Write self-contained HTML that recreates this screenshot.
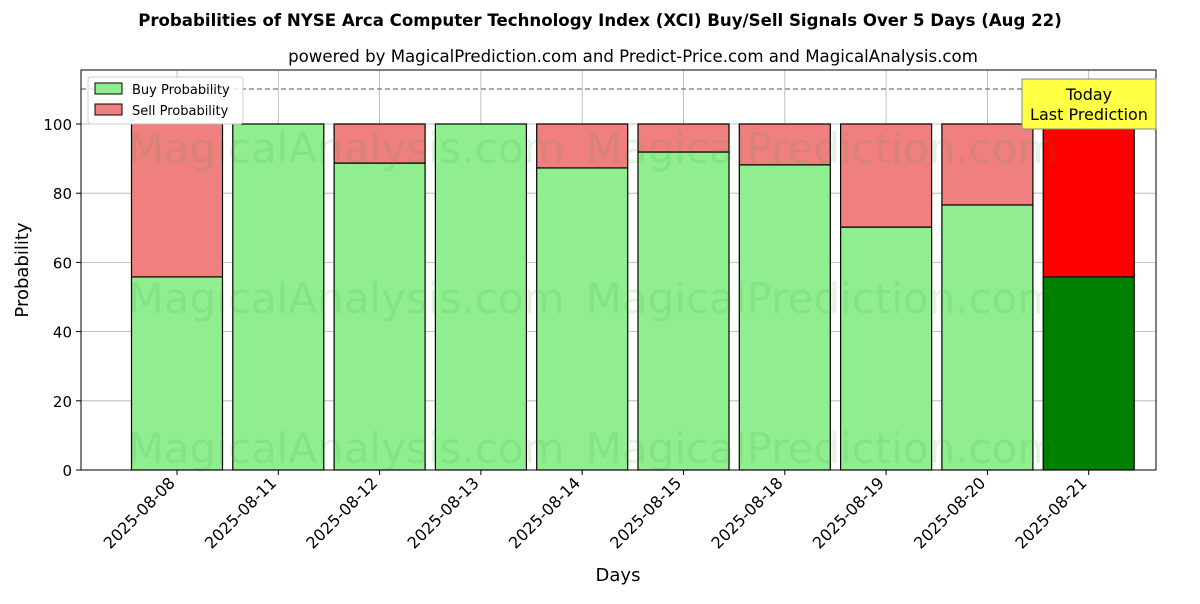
<!DOCTYPE html>
<html><head><meta charset="utf-8"><style>
body{margin:0;background:#fff;font-family:"DejaVu Sans","Liberation Sans",sans-serif}
svg text{font-family:"DejaVu Sans","Liberation Sans",sans-serif}
</style></head><body>
<svg id="chart" width="1200" height="600" xmlns="http://www.w3.org/2000/svg">
<text x="600" y="26" text-anchor="middle" font-size="16.6" font-weight="bold">Probabilities of NYSE Arca Computer Technology Index (XCI) Buy/Sell Signals Over 5 Days (Aug 22)</text>
<text x="633" y="62" text-anchor="middle" font-size="16.6">powered by MagicalPrediction.com and Predict-Price.com and MagicalAnalysis.com</text>
<g id="grid"></g>
<g id="bars"></g>
<g id="wm" fill="#2ca02c" fill-opacity="0.12" font-size="42">
<text x="346" y="163" text-anchor="middle">MagicalAnalysis.com</text>
<text x="822" y="163" text-anchor="middle">MagicalPrediction.com</text>
<text x="346" y="313" text-anchor="middle">MagicalAnalysis.com</text>
<text x="822" y="313" text-anchor="middle">MagicalPrediction.com</text>
<text x="346" y="463" text-anchor="middle">MagicalAnalysis.com</text>
<text x="822" y="463" text-anchor="middle">MagicalPrediction.com</text>
</g>
<line x1="81" y1="89" x2="1156" y2="89" stroke="#777" stroke-dasharray="5,3" stroke-width="1.2"/>
<rect x="81" y="70" width="1075" height="400" fill="none" stroke="#000" stroke-width="1"/>
<g id="axes"></g>
<text x="28" y="270" text-anchor="middle" font-size="18" transform="rotate(-90 28 270)">Probability</text>
<text x="618" y="581" text-anchor="middle" font-size="18">Days</text>
<g>
<rect x="88" y="77" width="155" height="47" fill="#fff" fill-opacity="0.8" stroke="#ccc" rx="3"/>
<rect x="95" y="83" width="27" height="11" fill="#90ee90" stroke="#000"/>
<text x="132" y="94" font-size="13">Buy Probability</text>
<rect x="95" y="104" width="27" height="11" fill="#f08080" stroke="#000"/>
<text x="132" y="115" font-size="13">Sell Probability</text>
</g>
<g>
<rect x="1022" y="79" width="134" height="50" fill="#ffff44" stroke="#888"/>
<text x="1089" y="100" text-anchor="middle" font-size="16">Today</text>
<text x="1089" y="120" text-anchor="middle" font-size="16">Last Prediction</text>
</g>
</svg>
<script>
const categories=["2025-08-08","2025-08-11","2025-08-12","2025-08-13","2025-08-14","2025-08-15","2025-08-18","2025-08-19","2025-08-20","2025-08-21"];
const buyValues=[55.8,100,88.7,100,87.3,91.9,88.2,70.2,76.6,55.8];
const yTicks=[0,20,40,60,80,100];
const NS="http://www.w3.org/2000/svg";
const L=81,R=1156,T=70,B=470,yMax=115.6;
const y=v=>B-(v/yMax)*(B-T);
const step=101.3,x0=177;
const x=i=>x0+i*step;
const bw=91;
function mk(t,a,p){const e=document.createElementNS(NS,t);for(const k in a)e.setAttribute(k,a[k]);p.appendChild(e);return e;}
const grid=document.getElementById('grid'),bars=document.getElementById('bars'),axes=document.getElementById('axes');
yTicks.forEach(v=>{
 const g=mk('line',{x1:L,x2:R,y1:y(v),y2:y(v),stroke:'#b0b0b0','stroke-width':0.8},grid);
 
 
 mk('line',{x1:L-5,x2:L,y1:y(v),y2:y(v),stroke:'#000'},axes);
 const t=mk('text',{x:L-9,y:y(v)+6,'text-anchor':'end','font-size':15},axes);t.textContent=v;
 
 
});
categories.forEach((c,i)=>{
 const g=mk('line',{x1:x(i),x2:x(i),y1:T,y2:B,stroke:'#b0b0b0','stroke-width':0.8},grid);
 
 
 const last=i===categories.length-1;
 const b=buyValues[i];
 const rb=mk('rect',{x:x(i)-bw/2,y:y(b),width:bw,height:B-y(b),fill:last?'#008000':'#90ee90',stroke:'#000','stroke-width':1.2},bars);
 
 
 const rs=mk('rect',{x:x(i)-bw/2,y:y(100),width:bw,height:y(b)-y(100),fill:last?'#ff0000':'#f08080',stroke:'#000','stroke-width':1.2},bars);
 
 
 mk('line',{x1:x(i),x2:x(i),y1:B,y2:B+5,stroke:'#000'},axes);
 const t=mk('text',{x:x(i)-1,y:B+14,'text-anchor':'end','font-size':16,transform:`rotate(-45 ${x(i)-1} ${B+14})`},axes);t.textContent=c;
 
 
});
</script>
</body></html>
